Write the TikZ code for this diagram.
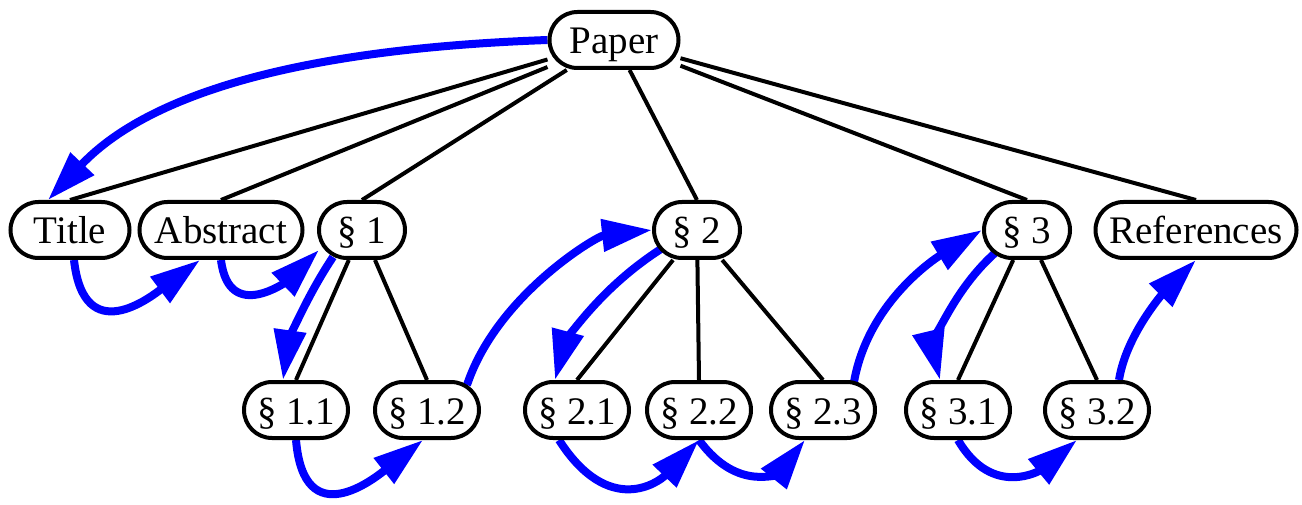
\documentclass[tikz,border=0pt]{standalone}
\usepackage{fontspec}
\setmainfont{Liberation Serif}
\usetikzlibrary{arrows.meta,calc,backgrounds}

\begin{document}
\begin{tikzpicture}[x=0.5pt,y=0.5pt,
            part/.style={draw,line width=2pt,fill=white,rounded corners=14pt,
              minimum height=28pt,minimum width=43pt,inner xsep=0pt,
              text height=14pt,text depth=0pt,font=\fontsize{19.5}{19.5}\selectfont},
            sub/.style={part,minimum width=52pt},
            link/.style={line width=2pt},
            flow/.style={blue,line width=4pt,-{Triangle[length=25pt,width=15.5pt]}}]
            \useasboundingbox (0,0) rectangle (1302,504);
            \node[part,minimum width=64.5pt] (Paper) at (614,464) {Paper};
            \node[part,minimum width=59.5pt] (Title) at (70,274) {Title};
            \node[part,minimum width=81.5pt] (Abstract) at (221,274) {Abstract};
            \node[part] (S1) at (362,274) {§ 1};
            \node[part] (S2) at (697,274) {§ 2};
            \node[part] (S3) at (1027,274) {§ 3};
            \node[part,minimum width=100.5pt] (Refs) at (1196,274) {References};
            \node[sub] (S11) at (296,94) {§ 1.1};
            \node[sub] (S12) at (427,94) {§ 1.2};
            \node[sub] (S21) at (577,94) {§ 2.1};
            \node[sub] (S22) at (699,94) {§ 2.2};
            \node[sub] (S23) at (823,94) {§ 2.3};
            \node[sub] (S31) at (958,94) {§ 3.1};
            \node[sub] (S32) at (1097,94) {§ 3.2};
            \begin{scope}[on background layer]
            \draw[link]
            (Paper) -- (Title.north)
            (Paper) -- (Abstract.north)
            (Paper) -- (S1.north)
            (Paper) -- (S2.north)
            (Paper) -- (S3.north)
            (Paper) -- (Refs.north)
            (S1) -- (S11.north)
            (S1) -- (S12.north)
            (S2) -- (S21.north)
            (S2) -- (S22.north)
            (S2) -- (S23.north)
            (S3) -- (S31.north)
            (S3) -- (S32.north)
            ;
            % reading order
            \draw[flow] (Paper.west) .. controls +(-280,-10) and +(90,95) .. ($(Title.north)+(-22,0)$);
            \draw[flow] ($(Title.south)+(4,0)$) .. controls +(10,-90) and +(-48,-36) .. ($(Abstract.south)+(-21,0)$);
            \draw[flow] (Abstract.south) .. controls +(8,-65) and +(-30,-29) .. ($(S1)+(-43,-20)$);
            \draw[flow] ($(S1)+(-29,-27)$) .. controls +(-30,-45) and +(5,35) .. ($(S11.north)+(-13,0)$);
            \draw[flow] (S11.south) .. controls +(8,-95) and +(-48,-38) .. ($(S12.south)+(-4,0)$);
            \draw[flow] ($(S12)+(40,25)$) .. controls +(30,90) and +(-55,-6) .. (S2.west);
            \draw[flow] ($(S2)+(-36,-19)$) .. controls +(-70,-45) and +(8,30) .. ($(S21.north)+(-22,0)$);
            \draw[flow] ($(S21.south)+(-18,0)$) .. controls +(50,-78) and +(-40,-42) .. (S22.south);
            \draw[flow] (S22.south) .. controls +(40,-55) and +(-24,-30) .. ($(S23.south)+(-18,0)$);
            \draw[flow] ($(S23)+(31,28)$) .. controls +(15,85) and +(-38,-23) .. (S3.west);
            \draw[flow] ($(S3)+(-32,-23)$) .. controls +(-50,-45) and +(-6,25) .. ($(S31.north)+(-18,0)$);
            \draw[flow] (S31.south) .. controls +(35,-60) and +(-35,-29) .. ($(S32.south)+(-20,0)$);
            \draw[flow] ($(S32.north)+(22,0)$) .. controls +(8,50) and +(-25,-25) .. (Refs.south);
            \end{scope}
          \end{tikzpicture}
\end{document}
